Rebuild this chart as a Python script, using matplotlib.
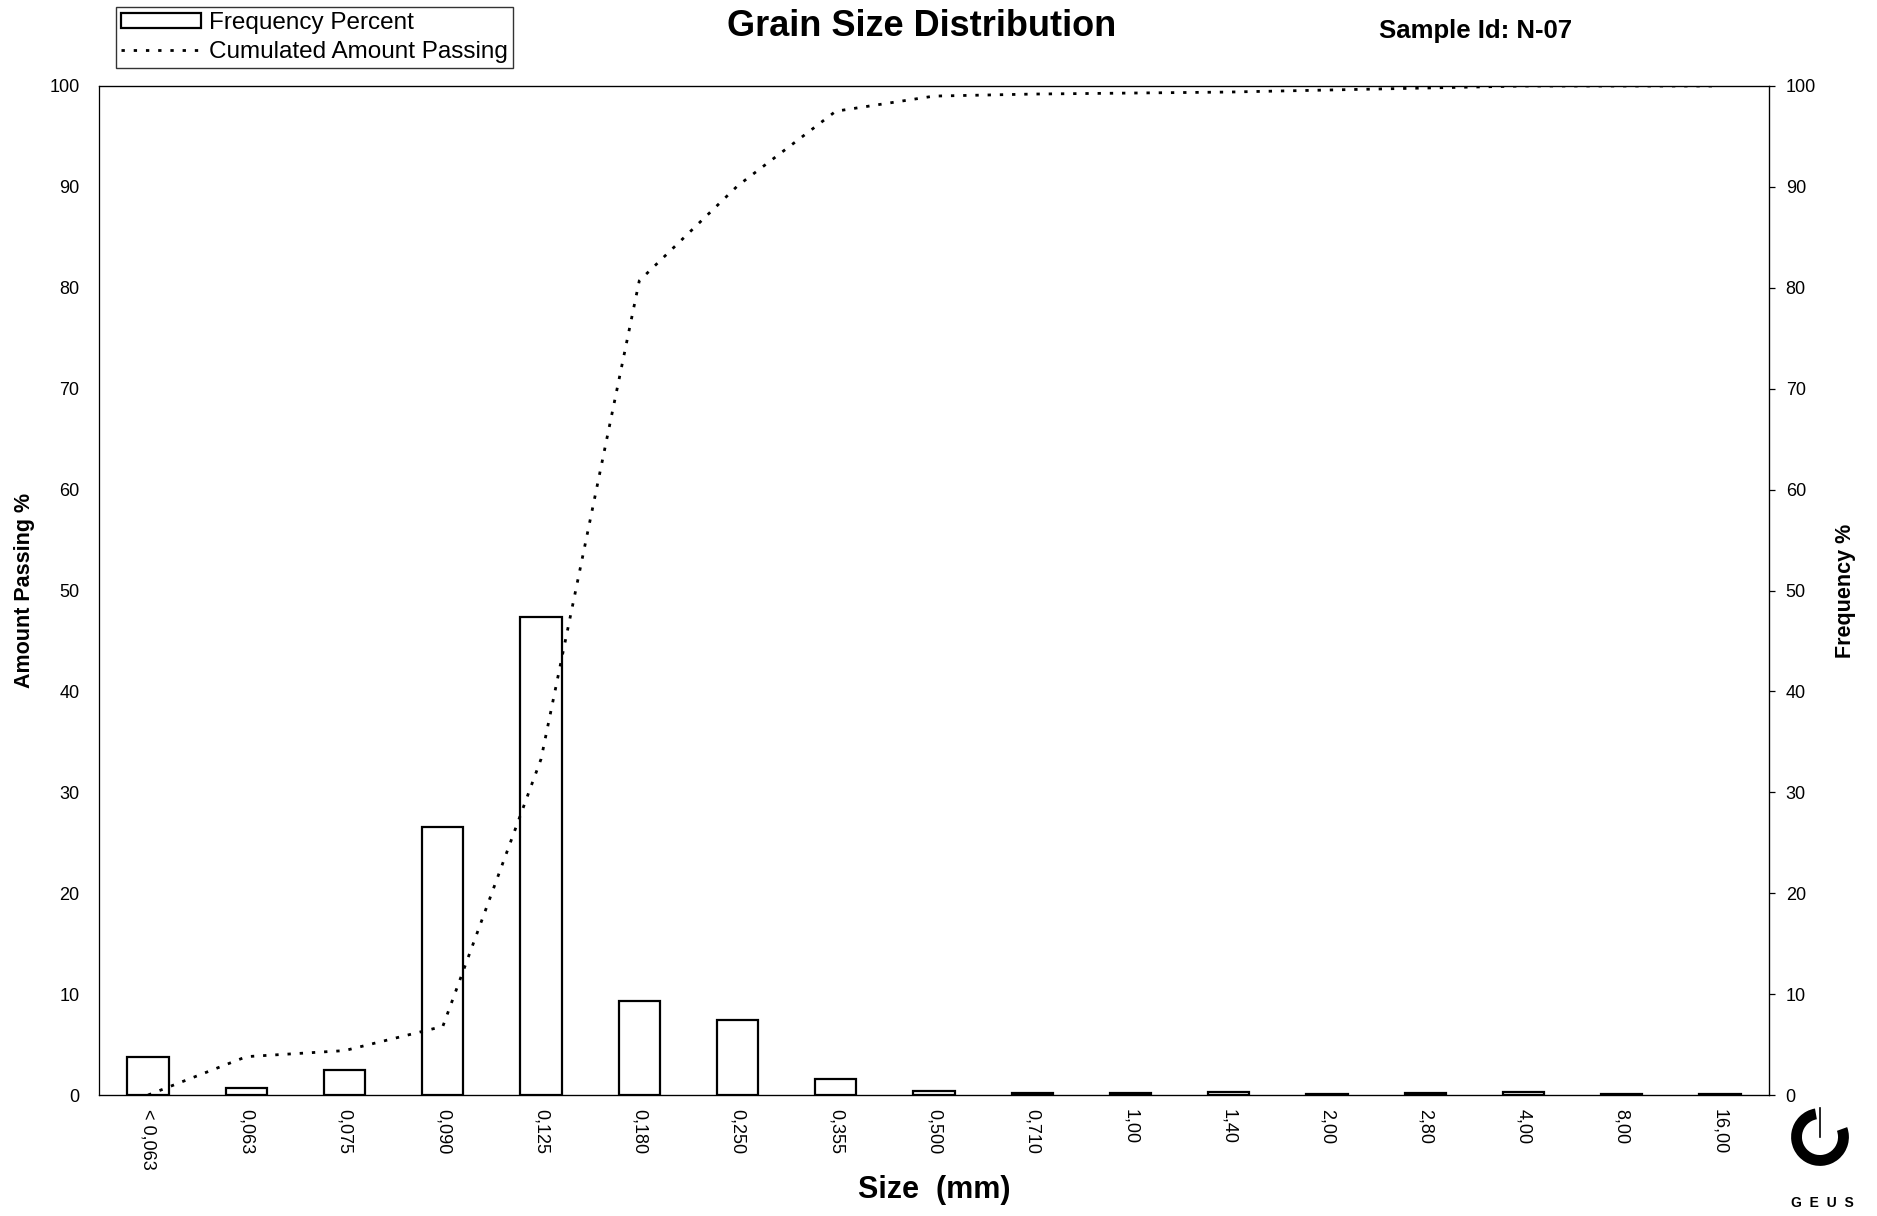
import matplotlib
matplotlib.use("Agg")
import matplotlib.pyplot as plt
from matplotlib.patches import Rectangle, Wedge
from matplotlib.lines import Line2D
import numpy as np

plt.rcParams['font.family'] = ['Liberation Sans', 'DejaVu Sans']

# Sieve classes (mm) and measured values
size_labels = ["< 0,063", "0,063", "0,075", "0,090", "0,125", "0,180", "0,250",
               "0,355", "0,500", "0,710", "1,00", "1,40", "2,00", "2,80",
               "4,00", "8,00", "16,00"]
frequency_pct = [3.8, 0.7, 2.5, 26.6, 47.4, 9.3, 7.4, 1.6, 0.4, 0.2, 0.2,
                 0.3, 0.1, 0.2, 0.3, 0.05, 0.05]
cumulative_passing = [0.0, 3.8, 4.4, 6.8, 33.3, 80.7, 90.1, 97.5, 99.0,
                      99.2, 99.3, 99.4, 99.6, 99.8, 100.0, 100.0, 100.0]
y_ticks = [0, 10, 20, 30, 40, 50, 60, 70, 80, 90, 100]

W, H = 1877, 1216
fig = plt.figure(figsize=(W / 100, H / 100), dpi=100)
left, right, bottom, top = 99, 1769, 1095, 86
ax = fig.add_axes([left / W, 1 - bottom / H, (right - left) / W, (bottom - top) / H])

x = np.arange(len(size_labels))
ax.bar(x, frequency_pct, width=0.42, facecolor='white', edgecolor='black',
       linewidth=1.6, zorder=2)
ax.plot(x, cumulative_passing, color='black', linewidth=2.0,
        linestyle=(0, (1.2, 3.2)), zorder=3)

ax.set_xlim(-0.5, len(size_labels) - 0.5)
ax.set_ylim(0, 100)
ax.set_xticks(x)
ax.set_xticklabels(size_labels, rotation=270, fontsize=13, va='top', ha='center')
ax.tick_params(axis='x', length=0, pad=10)
ax.set_yticks(y_ticks)
ax.set_yticklabels([str(v) for v in y_ticks], fontsize=13)
ax.tick_params(axis='y', length=0, pad=14)
for s in ax.spines.values():
    s.set_linewidth(0.9)
ax.spines['left'].set_color('#555555')

ax2 = ax.twinx()
ax2.set_ylim(0, 100)
ax2.set_yticks(y_ticks)
ax2.set_yticklabels([str(v) for v in y_ticks], fontsize=13)
ax2.tick_params(axis='y', length=4, width=0.9, pad=8)

ax.set_ylabel("Amount Passing %", fontsize=15.5, fontweight='bold', labelpad=10)
ax2.set_ylabel("Frequency %", fontsize=15.5, fontweight='bold', labelpad=14)
ax.set_xlabel("Size  (mm)", fontsize=22, fontweight='bold', labelpad=4)

fig.text(922 / W, 1 - 27 / H, "Grain Size Distribution", fontsize=26,
         fontweight='bold', ha='center', va='center')
fig.text(1476 / W, 1 - 31 / H, "Sample Id: N-07", fontsize=18.5,
         fontweight='bold', ha='center', va='center')

# Legend
handles = [Rectangle((0, 0), 1, 1, facecolor='white', edgecolor='black', linewidth=1.6),
           Line2D([], [], color='black', linewidth=2.0, linestyle=(0, (1.2, 3.2)))]
leg = fig.legend(handles, ["Frequency Percent", "Cumulated Amount Passing"],
                 loc='lower right', bbox_to_anchor=(513 / W, 1 - 68 / H),
                 bbox_transform=fig.transFigure, fontsize=17.5, frameon=True,
                 fancybox=False, edgecolor='black', handlelength=3.3,
                 handleheight=0.55, handletextpad=0.35, borderpad=0.2,
                 labelspacing=0.3, borderaxespad=0)
leg.get_frame().set_linewidth(1.0)

# GEUS logo
logo_ax = fig.add_axes([(1820 - 34) / W, 1 - (1137 + 34) / H, 68 / W, 68 / H])
logo_ax.set_xlim(-1, 1)
logo_ax.set_ylim(-1, 1)
logo_ax.set_aspect('equal')
logo_ax.axis('off')
logo_ax.add_patch(Wedge((0, 0), 0.85, 100, 20, width=0.32, facecolor='black'))
logo_ax.plot([0, 0], [0, 0.85], color='black', linewidth=1.2)
fig.text(1822 / W, 1 - 1203 / H, "G  E  U  S", fontsize=10, fontweight='bold',
         ha='center', va='center')

fig.savefig("out.png", dpi=100, facecolor='white')
